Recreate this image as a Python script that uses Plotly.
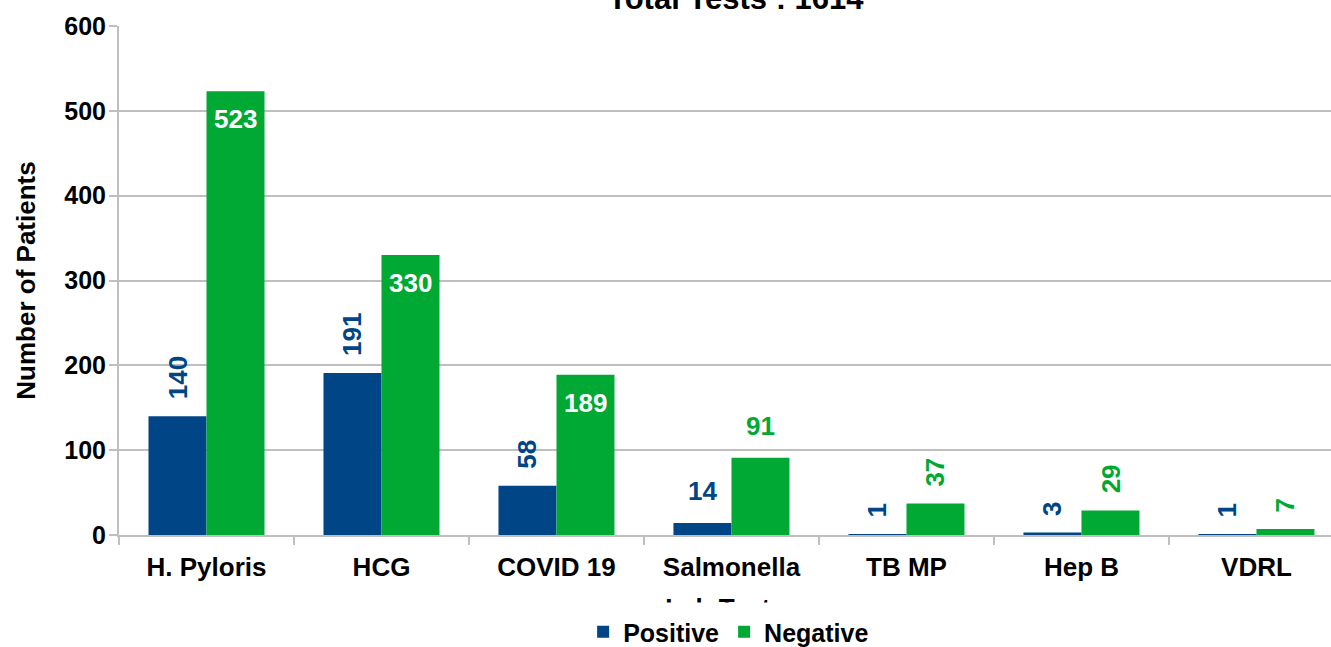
import plotly.graph_objects as go

categories = ["H. Pyloris", "HCG", "COVID 19", "Salmonella", "TB MP", "Hep B", "VDRL"]
positive = [140, 191, 58, 14, 1, 3, 1]
negative = [523, 330, 189, 91, 37, 29, 7]
title_text = "Total Tests : 1614"

# label styles: 'R' rotated outside, 'H' horizontal outside, 'I' inside white
pos_label_mode = ["R", "R", "R", "H", "R", "R", "R"]
neg_label_mode = ["I", "I", "I", "H", "R", "R", "R"]

BLUE = "#004586"
GREEN = "#00A933"
FONT = "Liberation Sans, Arial, sans-serif"

W, H = 1331, 647
ML, MR, MT, MB = 119, 0, 26, 112
xr = [-0.5, 6.426]
bargap = 0.337
plot_h = H - MT - MB

fig = go.Figure()
fig.add_bar(x=categories, y=positive, name="Positive", marker_color=BLUE, marker_line_width=0)
fig.add_bar(x=categories, y=negative, name="Negative", marker_color=GREEN, marker_line_width=0)

px_per_cat = (W - ML - MR) / (xr[1] - xr[0])
offset = px_per_cat * (1 - bargap) / 4

annotations = []
for series, modes, color, sign in [(positive, pos_label_mode, BLUE, -1), (negative, neg_label_mode, GREEN, 1)]:
    for cat, v, m in zip(categories, series, modes):
        a = dict(x=cat, y=v, xref="x", yref="y", text=f"<b>{v}</b>", showarrow=False,
                 xshift=sign * offset, font=dict(family=FONT, size=26, color=color))
        if m == "I":
            a.update(yanchor="top", yshift=-11, font=dict(family=FONT, size=26, color="white"))
        elif m == "H":
            a.update(yanchor="bottom", yshift=15)
        else:
            a.update(yanchor="bottom", yshift=15, textangle=-90)
        annotations.append(a)

# chart title (partly outside the top edge as in the reference)
annotations.append(dict(x=0.5, y=1, xref="paper", yref="paper", xshift=11, yshift=8,
                        yanchor="bottom", showarrow=False, text=f"<b>{title_text}</b>",
                        font=dict(family=FONT, size=31, color="black")))
# white band that hides most of the x-axis title, as the legend does in the reference
annotations.append(dict(x=0.5, y=-67 / plot_h, xref="paper", yref="paper",
                        xanchor="center", yanchor="top", showarrow=False, text="",
                        width=240, height=16, borderpad=0, bgcolor="white"))

fig.update_layout(
    width=W, height=H,
    margin=dict(l=ML, r=MR, t=MT, b=MB, autoexpand=False),
    paper_bgcolor="white", plot_bgcolor="white",
    barmode="group", bargap=bargap, bargroupgap=0,
    font=dict(family=FONT, color="black"),
    showlegend=True,
    legend=dict(orientation="h", x=0.503, xanchor="center", y=-74 / plot_h, yanchor="top",
                bgcolor="white", font=dict(family=FONT, size=25, color="black", weight="bold"),
                itemsizing="constant", traceorder="normal"),
    annotations=annotations,
)
fig.update_xaxes(range=xr, automargin=False, showline=True, linecolor="#BFBFBF", linewidth=2,
                 ticks="outside", tickson="boundaries", ticklen=8, tickcolor="#BFBFBF", tickwidth=2,
                 ticklabelstandoff=8,
                 tickfont=dict(family=FONT, size=26, color="black", weight="bold"),
                 title=dict(text="<b>Lab Tests</b>", font=dict(family=FONT, size=26, color="black"), standoff=18),
                 showgrid=False)
fig.update_yaxes(range=[0, 600], dtick=100, automargin=False, showline=True, linecolor="#BFBFBF", linewidth=2,
                 ticks="outside", ticklen=8, tickcolor="#BFBFBF", tickwidth=2, ticklabelstandoff=-2,
                 showgrid=True, gridcolor="#BFBFBF", gridwidth=2,
                 tickfont=dict(family=FONT, size=25, color="black", weight="bold"),
                 tickformat="d",
                 title=dict(text="<b>Number of Patients</b>", font=dict(family=FONT, size=26, color="black"), standoff=21))

# place the figure at the page's top-left corner (no default body margin)
fig.write_html("out.html", config={"displayModeBar": False},
               post_script="document.body.style.margin='0';")
